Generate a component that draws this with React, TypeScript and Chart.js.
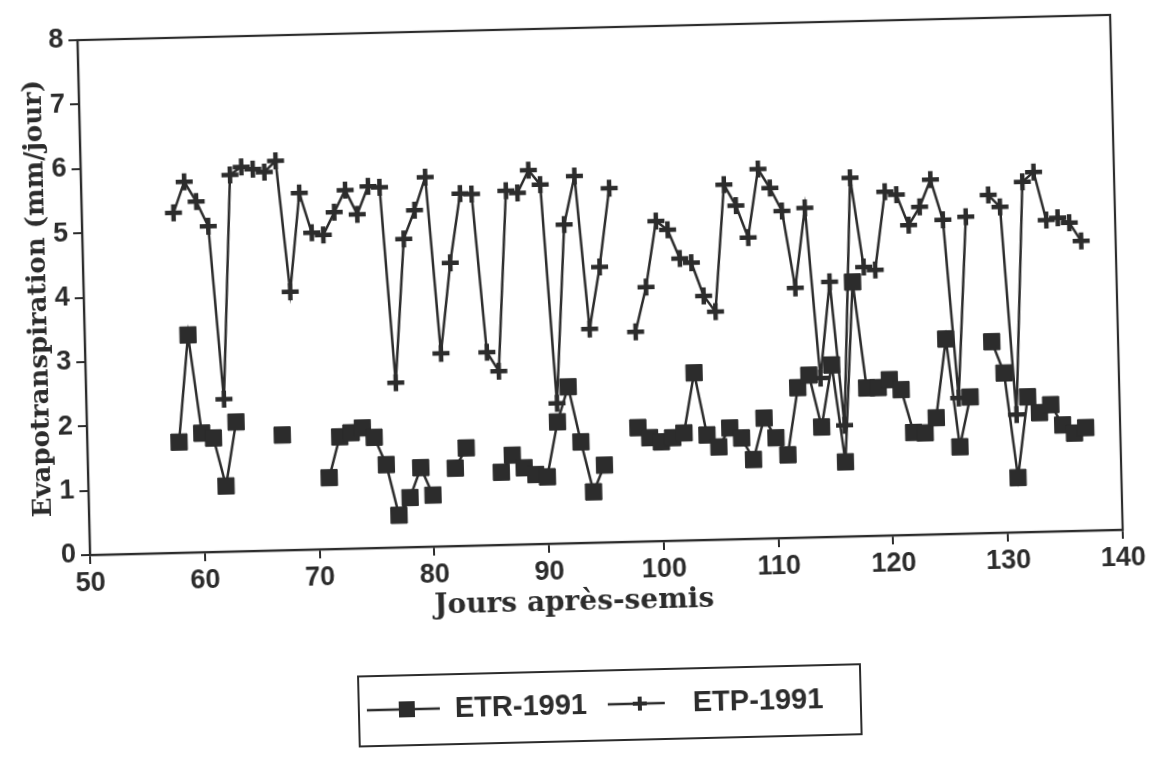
import React, { useEffect, useRef } from "react";
import { Chart, registerables } from "chart.js";

Chart.register(...registerables);

// ---------- data ----------
const days = [
  58, 59, 60, 61, 62, 63, 64, 65, 66, 67,
  68, 69, 70, 71, 72, 73, 74, 75, 76, 77,
  78, 79, 80, 81, 82, 83, 84, 85, 86, 87,
  88, 89, 90, 91, 92, 93, 94, 95, 96, 97,
  98, 99, 100, 101, 102, 103, 104, 105, 106, 107,
  108, 109, 110, 111, 112, 113, 114, 115, 116, 117,
  118, 119, 120, 121, 122, 123, 124, 125, 126, 127,
  128, 129, 130, 131, 132, 133, 134, 135, 136, 137,
];

const etr1991 = [
  1.72, 3.38, 1.85, 1.77, 1.02, 2.01, null, null, null, 1.79,
  null, null, null, 1.11, 1.74, 1.8, 1.87, 1.72, 1.29, 0.5,
  0.77, 1.23, 0.8, null, 1.21, 1.52, null, null, 1.13, 1.39,
  1.19, 1.08, 1.04, 1.89, 2.43, 1.57, 0.79, 1.2, null, null,
  1.77, 1.61, 1.54, 1.6, 1.67, 2.6, 1.63, 1.44, 1.73, 1.57,
  1.23, 1.87, 1.56, 1.29, 2.33, 2.52, 1.71, 2.67, 1.16, 3.95,
  2.3, 2.3, 2.42, 2.26, 1.59, 1.58, 1.81, 3.03, 1.35, 2.12,
  null, 2.97, 2.48, 0.85, 2.1, 1.85, 1.97, 1.65, 1.52, 1.6,
];

const etp1991 = [
  5.28, 5.76, 5.45, 5.06, 2.37, 5.85, 5.97, 5.93, 5.88, 6.05,
  4.01, 5.54, 4.92, 4.88, 5.23, 5.57, 5.19, 5.62, 5.6, 2.56,
  4.79, 5.23, 5.74, 3.0, 4.4, 5.47, 5.46, 3.0, 2.7, 5.5,
  5.46, 5.81, 5.58, 2.18, 4.95, 5.7, 3.32, 4.28, 5.5, null,
  3.26, 3.95, 4.97, 4.83, 4.38, 4.31, 3.79, 3.54, 5.51, 5.18,
  4.68, 5.74, 5.44, 5.08, 3.88, 5.12, 2.47, 3.96, 1.73, 5.57,
  4.18, 4.13, 5.34, 5.29, 4.81, 5.09, 5.51, 4.88, 2.11, 4.92,
  null, 5.25, 5.06, 1.83, 5.44, 5.59, 4.84, 4.87, 4.79, 4.5,
];

const xTicks = [50, 60, 70, 80, 90, 100, 110, 120, 130, 140];
const yTicks = [0, 1, 2, 3, 4, 5, 6, 7, 8];
const seriesNames = ["ETR-1991", "ETP-1991"];
const xTitle = "Jours après-semis";
const yTitle = "Evapotranspiration (mm/jour)";

// ---------- styles ----------
const INK = "#2c2c2c";
const SANS = "'Liberation Sans', Arial, sans-serif";
const SERIF = "'DejaVu Serif', 'Liberation Serif', serif";

const W = 1162;
const H = 790;

const decorPlugin = {
  id: "decor",
  beforeDatasetsDraw(chart: any) {
    const { ctx, chartArea: a } = chart;
    ctx.save();
    ctx.strokeStyle = INK;
    ctx.lineWidth = 2.2;
    ctx.strokeRect(a.left, a.top, a.right - a.left, a.bottom - a.top);
    ctx.restore();
  },
  afterDraw(chart: any) {
    const { ctx, chartArea: a } = chart;
    ctx.save();
    // x axis title
    ctx.fillStyle = INK;
    ctx.font = `bold 28px ${SERIF}`;
    ctx.textAlign = "center";
    ctx.textBaseline = "middle";
    ctx.fillText(xTitle, a.left + 483, a.bottom + 60);

    // legend box
    const bx = a.left + 265;
    const by = a.bottom + 128;
    const bw = 502;
    const bh = 70;
    ctx.lineWidth = 2;
    ctx.strokeStyle = INK;
    ctx.strokeRect(bx, by, bw, bh);
    const cy = by + 34;
    ctx.font = `bold 29px ${SANS}`;
    ctx.textAlign = "left";

    // ETR entry
    ctx.lineWidth = 2.5;
    ctx.beginPath();
    ctx.moveTo(bx + 8, cy);
    ctx.lineTo(bx + 81, cy);
    ctx.stroke();
    ctx.fillStyle = INK;
    ctx.fillRect(bx + 48 - 8, cy - 8, 16, 16);
    ctx.fillText(chart.data.datasets[0].label, bx + 96, cy + 1);

    // ETP entry
    ctx.beginPath();
    ctx.moveTo(bx + 249, cy);
    ctx.lineTo(bx + 306, cy);
    ctx.stroke();
    ctx.lineWidth = 4;
    ctx.beginPath();
    ctx.moveTo(bx + 281 - 7, cy);
    ctx.lineTo(bx + 281 + 7, cy);
    ctx.moveTo(bx + 281, cy - 7);
    ctx.lineTo(bx + 281, cy + 7);
    ctx.stroke();
    ctx.fillText(chart.data.datasets[1].label, bx + 334, cy + 1);
    ctx.restore();
  },
};

export default function App() {
  const canvasRef = useRef<HTMLCanvasElement | null>(null);

  useEffect(() => {
    const canvas = canvasRef.current;
    if (!canvas) return;
    const chart = new Chart(canvas, {
      type: "line",
      data: {
        datasets: [
          {
            label: seriesNames[0],
            data: days.map((d, i) => ({ x: d, y: etr1991[i] })) as any,
            borderColor: INK,
            backgroundColor: INK,
            borderWidth: 2.5,
            pointStyle: "rect",
            pointRadius: 11.5,
            pointBorderWidth: 1,
            pointBackgroundColor: INK,
            pointBorderColor: INK,
            spanGaps: false,
            tension: 0,
          },
          {
            label: seriesNames[1],
            data: days.map((d, i) => ({ x: d, y: etp1991[i] })) as any,
            borderColor: INK,
            backgroundColor: INK,
            borderWidth: 2.5,
            pointStyle: "cross",
            pointRadius: 8.5,
            pointBorderWidth: 4.5,
            pointBorderColor: INK,
            spanGaps: false,
            tension: 0,
          },
        ],
      },
      options: {
        animation: false,
        responsive: false,
        devicePixelRatio: 1,
        layout: { padding: { left: 0, right: 39, top: 40, bottom: 150 } },
        plugins: {
          legend: { display: false },
          tooltip: { enabled: false },
        },
        scales: {
          x: {
            type: "linear",
            min: 50,
            max: 140,
            afterBuildTicks: (s: any) => {
              s.ticks = xTicks.map((v) => ({ value: v }));
            },
            afterFit: (s: any) => {
              s.height = 85;
            },
            ticks: {
              color: INK,
              font: { family: SANS, size: 27, weight: "bold" },
              padding: 3,
              maxRotation: 0,
              autoSkip: false,
            },
            grid: {
              display: true,
              drawOnChartArea: false,
              drawTicks: true,
              tickLength: 9,
              color: INK,
              lineWidth: 2,
            },
            border: { display: true, color: INK, width: 2.2 },
            title: { display: false },
          },
          y: {
            type: "linear",
            min: 0,
            max: 8,
            afterBuildTicks: (s: any) => {
              s.ticks = yTicks.map((v) => ({ value: v }));
            },
            afterFit: (s: any) => {
              s.width = 90;
            },
            ticks: {
              color: INK,
              font: { family: SANS, size: 27, weight: "bold" },
              padding: 5,
              autoSkip: false,
            },
            grid: {
              display: true,
              drawOnChartArea: false,
              drawTicks: true,
              tickLength: 9,
              color: INK,
              lineWidth: 2,
            },
            border: { display: true, color: INK, width: 2.2 },
            title: {
              display: true,
              text: yTitle,
              color: INK,
              font: { family: SERIF, size: 26, weight: "bold" },
              padding: { top: 30, bottom: 0 },
            },
          },
        },
      },
      plugins: [decorPlugin],
    });
    return () => chart.destroy();
  }, []);

  return (
    <div
      style={{
        position: "fixed",
        left: 0,
        top: 0,
        width: W,
        height: H,
        background: "#ffffff",
        transform: "rotate(-1.4deg)",
        transformOrigin: "90px 555px",
      }}
    >
      <canvas
        ref={canvasRef}
        width={W}
        height={H}
        style={{ width: W, height: H, display: "block" }}
      />
    </div>
  );
}
